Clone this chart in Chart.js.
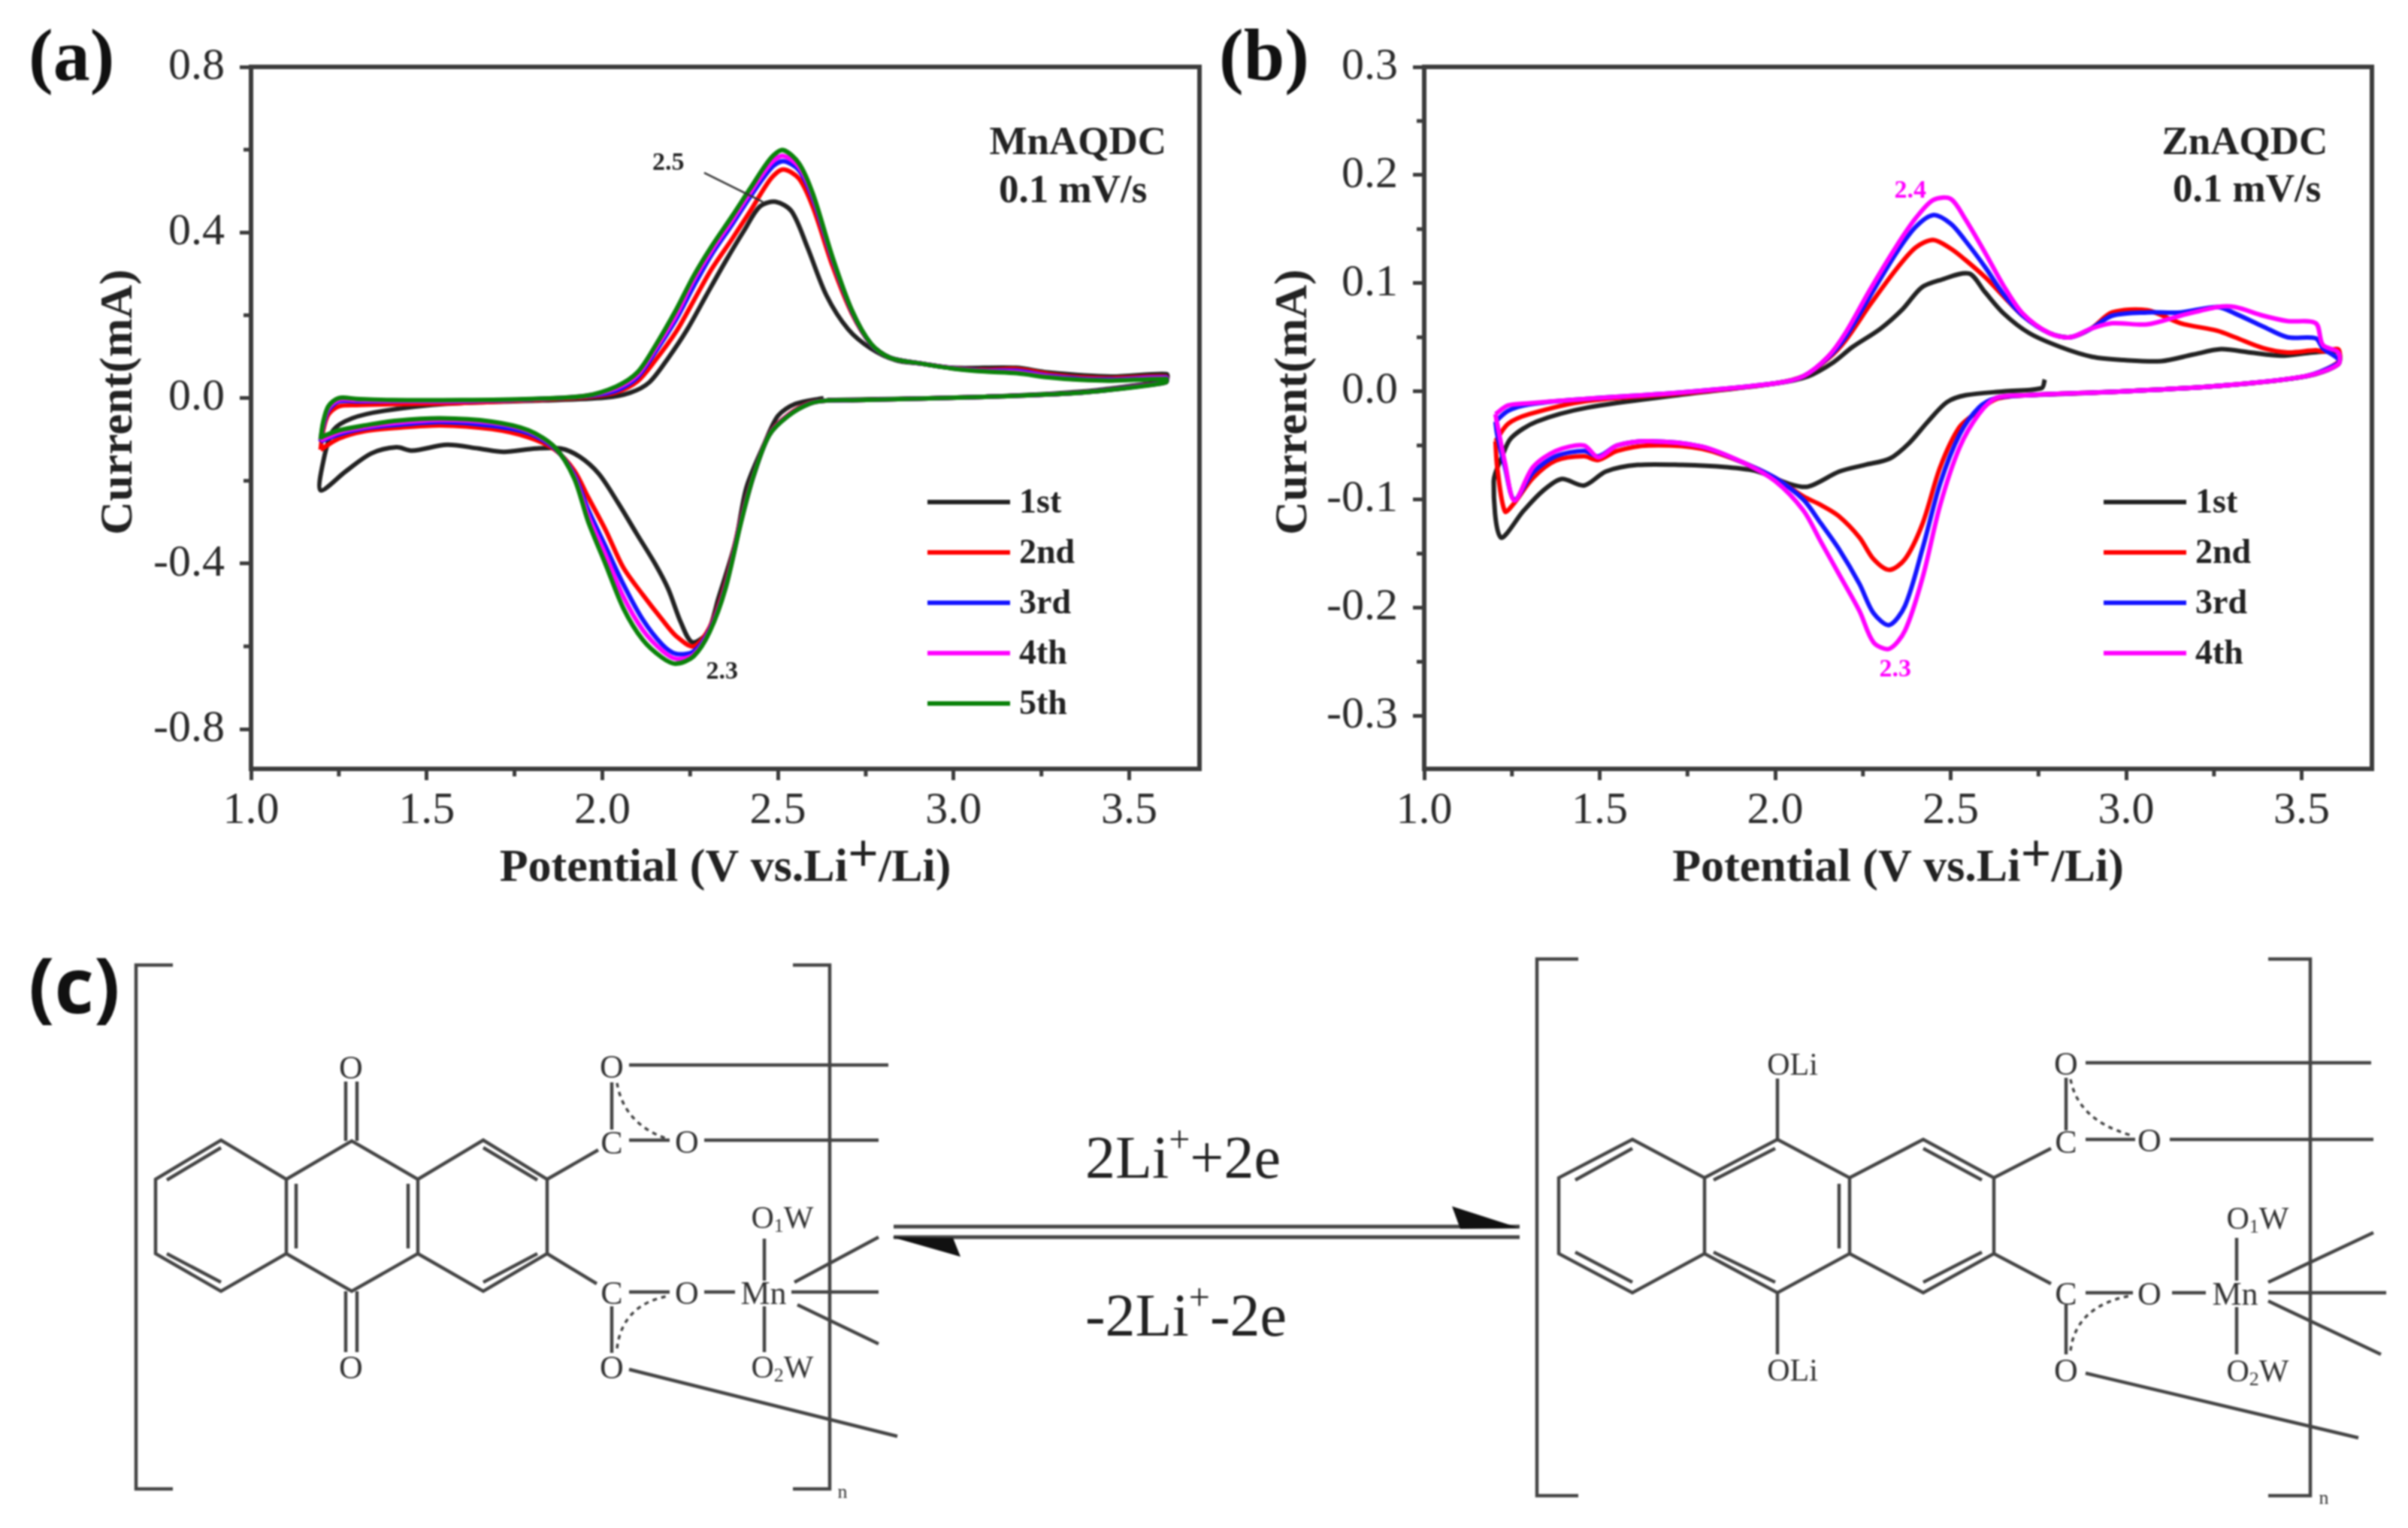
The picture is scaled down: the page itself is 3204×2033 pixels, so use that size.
<!DOCTYPE html>
<html>
<head>
<meta charset="utf-8">
<title>CV curves of MnAQDC and ZnAQDC</title>
<script src="https://cdn.jsdelivr.net/npm/chart.js@4/dist/chart.umd.js"></script>
<style>
  html, body { margin: 0; padding: 0; background: #fff; }
  #page { position: relative; width: 3204px; height: 2033px; overflow: hidden; background: #fff; filter: blur(0.8px); }
  canvas { position: absolute; top: 0; }
  #chartA { left: 0; }
  #chartB { left: 1640px; }
  .tag { position: absolute; font-weight: bold; color: #111; line-height: 1; }
  #scheme { position: absolute; left: 0; top: 0; }
  #scheme .bond { fill: none; stroke: #444; stroke-width: 4.5; }
  #scheme .dash { fill: none; stroke: #444; stroke-width: 3.5; stroke-dasharray: 6 6; }
  #scheme text { font-family: "Liberation Serif", serif; fill: #333; text-anchor: middle; dominant-baseline: central; }
</style>
</head>
<body>
<div id="page">
  <canvas id="chartA" width="1640" height="1200"></canvas>
  <canvas id="chartB" width="1564" height="1200"></canvas>
  <div class="tag" style="left:38px;top:24px;font-family:'Liberation Serif',serif;font-size:98px">(a)</div>
  <div class="tag" style="left:1622px;top:24px;font-family:'Liberation Serif',serif;font-size:98px">(b)</div>
  <div class="tag" style="left:38px;top:1258px;font-family:'Open Sans',sans-serif;font-size:102px">(c)</div>

  <svg id="scheme" width="3204" height="2033">
    <!-- left structure -->
    <path class="bond" d="M230 1284H181V1981H230M1055 1284H1104V1981H1055"/>
    <path class="bond" d="M294 1517L381 1569V1668L294 1718L207 1668V1569ZM381 1569L468 1518L556 1569V1668L468 1718L381 1668M556 1569L643 1517L728 1569V1668L643 1718L556 1668"/>
    <path class="bond" d="M222 1570L294 1527M222 1668L294 1706M394 1575V1661M543 1575V1661M643 1527L715 1570M643 1706L715 1668"/>
    <path class="bond" d="M460 1439V1518M475 1439V1518M460 1718V1799M475 1718V1799"/>
    <path class="bond" d="M728 1569L796 1530M814 1440V1503M837 1517H891M837 1417H1182M937 1517H1169"/>
    <path class="bond" d="M728 1668L794 1708M814 1738V1800M837 1719H891M937 1719H978M837 1822L1194 1911"/>
    <path class="bond" d="M1017 1648V1704M1017 1738V1799M1057 1706L1169 1646M1053 1719H1169M1061 1736L1169 1788"/>
    <path class="dash" d="M821 1441Q830 1495 887 1515M821 1794Q828 1735 891 1724"/>
    <text x="467" y="1420" font-size="44">O</text>
    <text x="467" y="1819" font-size="44">O</text>
    <text x="814" y="1419" font-size="44">O</text>
    <text x="814" y="1520" font-size="44">C</text>
    <text x="914" y="1519" font-size="44">O</text>
    <text x="814" y="1720" font-size="44">C</text>
    <text x="914" y="1720" font-size="44">O</text>
    <text x="814" y="1819" font-size="44">O</text>
    <text x="1016" y="1720" font-size="44">Mn</text>
    <text x="1041" y="1620" font-size="42">O<tspan font-size="26" dy="10">1</tspan><tspan dy="-10">W</tspan></text>
    <text x="1041" y="1819" font-size="42">O<tspan font-size="26" dy="10">2</tspan><tspan dy="-10">W</tspan></text>
    <text x="1121" y="1984" font-size="26">n</text>

    <!-- equilibrium arrows -->
    <path class="bond" d="M1189 1632H2022M1189 1646H2022" style="stroke-width:5"/>
    <path d="M1932 1605L2022 1634L1943 1635Z" fill="#111"/>
    <path d="M1187 1646L1278 1672L1268 1647Z" fill="#111"/>
    <text x="1574" y="1540" font-size="80" style="fill:#222">2Li<tspan font-size="50" dy="-24">+</tspan><tspan dy="24">+2e</tspan></text>
    <text x="1578" y="1750" font-size="80" style="fill:#222">-2Li<tspan font-size="50" dy="-24">+</tspan><tspan dy="24">-2e</tspan></text>

    <!-- right structure -->
    <path class="bond" d="M2100 1276H2045V1990H2100M3018 1276H3074V1990H3018"/>
    <path class="bond" d="M2172 1516L2268 1567V1668L2172 1720L2074 1668V1567ZM2268 1567L2365 1516L2461 1567V1668L2365 1720L2268 1668M2461 1567L2559 1516L2653 1567V1668L2559 1720L2461 1668"/>
    <path class="bond" d="M2096 1570L2172 1528M2096 1666L2172 1706M2280 1570L2362 1528M2280 1666L2362 1706M2447 1575V1661M2559 1528L2637 1570M2559 1706L2637 1666"/>
    <path class="bond" d="M2365 1435V1516M2365 1720V1802"/>
    <path class="bond" d="M2653 1567L2729 1528M2749 1434V1504M2775 1516H2841M2775 1414H3155M2887 1516H3158"/>
    <path class="bond" d="M2653 1668L2729 1708M2749 1736V1802M2775 1720H2838M2890 1720H2935M2775 1827L3138 1913"/>
    <path class="bond" d="M2976 1647V1704M2976 1739V1802M3018 1706L3158 1640M3018 1720H3175M3018 1731L3168 1802"/>
    <path class="dash" d="M2755 1436Q2765 1490 2834 1510M2755 1797Q2762 1738 2834 1724"/>
    <text x="2385" y="1416" font-size="42">OLi</text>
    <text x="2385" y="1823" font-size="42">OLi</text>
    <text x="2749" y="1415" font-size="44">O</text>
    <text x="2749" y="1519" font-size="44">C</text>
    <text x="2860" y="1517" font-size="44">O</text>
    <text x="2749" y="1721" font-size="44">C</text>
    <text x="2860" y="1721" font-size="44">O</text>
    <text x="2749" y="1823" font-size="44">O</text>
    <text x="2974" y="1721" font-size="44">Mn</text>
    <text x="3004" y="1621" font-size="42">O<tspan font-size="26" dy="10">1</tspan><tspan dy="-10">W</tspan></text>
    <text x="3004" y="1824" font-size="42">O<tspan font-size="26" dy="10">2</tspan><tspan dy="-10">W</tspan></text>
    <text x="3092" y="1992" font-size="26">n</text>
  </svg>
</div>

<script>
// --- panel (a) MnAQDC ---
const aCycleLabels = ['1st', '2nd', '3rd', '4th', '5th'];
const aFirstX = [2.63, 2.55, 2.50, 2.46, 2.41, 2.38, 2.33, 2.30, 2.256, 2.224, 2.188, 2.152, 2.098, 2.044, 1.99, 1.936, 1.882, 1.81, 1.72, 1.648, 1.558, 1.459, 1.414, 1.342, 1.27, 1.198,
  1.207, 1.234, 1.288, 1.378, 1.558, 1.828, 2.008, 2.08, 2.134, 2.188, 2.242, 2.296, 2.35, 2.404, 2.449, 2.494, 2.539, 2.584, 2.638, 2.70, 2.764, 2.836, 2.908, 2.998, 3.178, 3.268, 3.448, 3.606,
  3.606, 3.538, 3.358, 3.088, 2.64];
const aFirstY = [0.0, -0.014, -0.043, -0.113, -0.217, -0.345, -0.485, -0.566, -0.59, -0.543, -0.462, -0.403, -0.328, -0.252, -0.183, -0.142, -0.122, -0.122, -0.13, -0.122, -0.113, -0.127, -0.119, -0.134, -0.177, -0.223,
  -0.148, -0.078, -0.049, -0.031, -0.014, -0.006, 0.001, 0.013, 0.038, 0.097, 0.166, 0.248, 0.329, 0.405, 0.463, 0.474, 0.451, 0.364, 0.248, 0.166, 0.12, 0.091, 0.083, 0.073, 0.073, 0.062, 0.052, 0.058,
  0.044, 0.033, 0.015, 0.003, -0.005];
const aLoopX = [1.198, 1.205, 1.22, 1.25, 1.30, 1.40, 1.60, 1.80, 1.95, 2.04, 2.10, 2.15, 2.21, 2.26, 2.31, 2.37, 2.42, 2.48, 2.515, 2.56, 2.60, 2.655, 2.71, 2.765, 2.82, 2.91, 3.00, 3.09, 3.18, 3.27, 3.36, 3.45, 3.605,
  3.605, 3.54, 3.36, 3.09, 2.73, 2.64, 2.59, 2.53, 2.475, 2.43, 2.395, 2.35, 2.305, 2.26, 2.21, 2.17, 2.115, 2.06, 2.01, 1.96, 1.92, 1.865, 1.79, 1.685, 1.54, 1.415, 1.325, 1.25, 1.198];
const aSecondY = [-0.125, -0.08, -0.04, -0.02, -0.017, -0.015, -0.012, -0.005, 0.002, 0.014, 0.04, 0.09, 0.16, 0.235, 0.31, 0.385, 0.45, 0.53, 0.552, 0.53, 0.46, 0.32, 0.205, 0.13, 0.097, 0.083, 0.072, 0.068, 0.07, 0.058, 0.05, 0.048, 0.052,
  0.04, 0.03, 0.013, 0.003, -0.005, -0.006, -0.012, -0.04, -0.087, -0.187, -0.29, -0.45, -0.555, -0.60, -0.575, -0.535, -0.475, -0.41, -0.32, -0.24, -0.175, -0.125, -0.095, -0.075, -0.066, -0.072, -0.08, -0.098, -0.125];
const aThirdY = [-0.105, -0.07, -0.03, -0.008, -0.008, -0.008, -0.008, -0.003, 0.004, 0.018, 0.05, 0.11, 0.19, 0.27, 0.345, 0.42, 0.485, 0.555, 0.572, 0.55, 0.48, 0.335, 0.21, 0.13, 0.097, 0.083, 0.072, 0.066, 0.066, 0.054, 0.047, 0.045, 0.05,
  0.039, 0.03, 0.013, 0.003, -0.005, -0.006, -0.013, -0.042, -0.089, -0.189, -0.295, -0.457, -0.56, -0.612, -0.618, -0.595, -0.535, -0.45, -0.36, -0.27, -0.185, -0.122, -0.085, -0.067, -0.058, -0.065, -0.073, -0.088, -0.105];
const aFourthY = [-0.102, -0.065, -0.025, -0.004, -0.005, -0.007, -0.007, -0.003, 0.005, 0.024, 0.056, 0.118, 0.20, 0.285, 0.355, 0.43, 0.495, 0.567, 0.585, 0.558, 0.487, 0.338, 0.212, 0.13, 0.097, 0.083, 0.072, 0.065, 0.063, 0.052, 0.045, 0.043, 0.048,
  0.038, 0.03, 0.013, 0.003, -0.005, -0.006, -0.014, -0.042, -0.09, -0.19, -0.298, -0.46, -0.563, -0.62, -0.63, -0.61, -0.56, -0.48, -0.38, -0.285, -0.19, -0.12, -0.08, -0.06, -0.053, -0.06, -0.07, -0.083, -0.102];
const aFifthY = [-0.10, -0.06, -0.02, 0.0, -0.002, -0.005, -0.005, -0.002, 0.005, 0.028, 0.062, 0.125, 0.213, 0.295, 0.365, 0.44, 0.505, 0.58, 0.599, 0.567, 0.492, 0.341, 0.213, 0.131, 0.097, 0.083, 0.071, 0.064, 0.06, 0.05, 0.044, 0.042, 0.046,
  0.038, 0.029, 0.013, 0.003, -0.005, -0.006, -0.014, -0.043, -0.09, -0.19, -0.30, -0.462, -0.566, -0.624, -0.642, -0.627, -0.584, -0.508, -0.403, -0.299, -0.194, -0.119, -0.078, -0.057, -0.049, -0.055, -0.066, -0.078, -0.095];

// --- panel (b) ZnAQDC ---
const bCycleLabels = ['1st', '2nd', '3rd', '4th'];
const bFirstX = [2.768, 2.759, 2.651, 2.543, 2.489, 2.435, 2.381, 2.327, 2.255, 2.183, 2.094, 2.04, 1.95, 1.86, 1.734, 1.608, 1.518, 1.455, 1.392, 1.338, 1.284, 1.218, 1.198,
  1.221, 1.248, 1.32, 1.464, 1.734, 2.004, 2.094, 2.166, 2.22, 2.30, 2.363, 2.417, 2.471, 2.552, 2.597, 2.651, 2.723, 2.813, 2.903, 2.993, 3.10, 3.19, 3.27, 3.353, 3.442, 3.532, 3.604,
  3.604, 3.514, 3.263, 2.993, 2.723];
const bFirstY = [0.011, 0.003, 0.0, -0.0035, -0.01, -0.028, -0.048, -0.062, -0.068, -0.074, -0.088, -0.0855, -0.074, -0.07, -0.068, -0.068, -0.074, -0.087, -0.081, -0.092, -0.11, -0.135, -0.083,
  -0.061, -0.043, -0.028, -0.015, -0.003, 0.0075, 0.014, 0.027, 0.041, 0.058, 0.076, 0.096, 0.103, 0.109, 0.092, 0.072, 0.054, 0.041, 0.032, 0.029, 0.028, 0.034, 0.039, 0.036, 0.033, 0.036, 0.036,
  0.025, 0.014, 0.005, 0.0, -0.0035];
const bLoopX = [1.203, 1.239, 1.30, 1.46, 1.73, 2.00, 2.08, 2.15, 2.20, 2.27, 2.345, 2.40, 2.45, 2.50, 2.54, 2.60, 2.65, 2.705, 2.78, 2.84, 2.90, 2.96, 3.06, 3.155, 3.26, 3.31, 3.39, 3.46, 3.54, 3.56, 3.604,
  3.604, 3.51, 3.26, 2.99, 2.72, 2.63, 2.58, 2.525, 2.47, 2.42, 2.37, 2.325, 2.28, 2.24, 2.18, 2.13, 2.08, 2.00, 1.91, 1.79, 1.64, 1.55, 1.496, 1.455, 1.375, 1.31, 1.257, 1.23, 1.208, 1.203];
const bSecondY = [-0.046, -0.03, -0.021, -0.009, -0.002, 0.0075, 0.014, 0.03, 0.047, 0.08, 0.113, 0.133, 0.14, 0.132, 0.122, 0.105, 0.088, 0.07, 0.054, 0.05, 0.058, 0.073, 0.075, 0.063, 0.056, 0.05, 0.04, 0.036, 0.038, 0.037, 0.039,
  0.027, 0.014, 0.005, 0.0, -0.0035, -0.007, -0.018, -0.033, -0.07, -0.122, -0.155, -0.165, -0.155, -0.135, -0.115, -0.105, -0.097, -0.08, -0.066, -0.053, -0.05, -0.055, -0.0635, -0.06, -0.064, -0.08, -0.103, -0.111, -0.07, -0.046];
const bThirdY = [-0.028, -0.018, -0.012, -0.007, -0.001, 0.0075, 0.014, 0.031, 0.05, 0.088, 0.128, 0.152, 0.163, 0.155, 0.14, 0.114, 0.09, 0.07, 0.054, 0.05, 0.058, 0.07, 0.073, 0.073, 0.078, 0.072, 0.06, 0.05, 0.049, 0.04, 0.03,
  0.026, 0.014, 0.005, 0.0, -0.0035, -0.006, -0.015, -0.04, -0.085, -0.145, -0.198, -0.216, -0.205, -0.178, -0.145, -0.122, -0.10, -0.08, -0.066, -0.051, -0.046, -0.05, -0.06, -0.055, -0.06, -0.075, -0.10, -0.07, -0.04, -0.028];
const bFourthY = [-0.021, -0.013, -0.011, -0.007, -0.001, 0.0075, 0.014, 0.032, 0.054, 0.094, 0.134, 0.16, 0.177, 0.178, 0.16, 0.127, 0.098, 0.072, 0.054, 0.05, 0.058, 0.063, 0.062, 0.07, 0.078, 0.078, 0.07, 0.065, 0.063, 0.043, 0.036,
  0.025, 0.014, 0.005, 0.0, -0.0035, -0.006, -0.021, -0.052, -0.105, -0.172, -0.221, -0.238, -0.232, -0.203, -0.168, -0.139, -0.11, -0.083, -0.066, -0.051, -0.046, -0.05, -0.061, -0.05, -0.055, -0.07, -0.101, -0.066, -0.03, -0.021];

const cycleColors = ['#222222', '#ff0000', '#1414ff', '#ff00ff', '#0a820a'];
const serif = '"Liberation Serif", serif';

function toPoints(xs, ys) {
  return xs.map((x, i) => ({ x: x, y: ys[i] }));
}

// frame, minor ticks, axis titles, legend and notes
function decorPlugin(cfg) {
  return {
    id: 'decor',
    afterDraw(chart) {
      const ctx = chart.ctx;
      const area = chart.chartArea;
      const xs = chart.scales.x;
      const ys = chart.scales.y;
      ctx.save();

      ctx.strokeStyle = '#3c3c3c';
      ctx.lineWidth = 6;
      ctx.strokeRect(area.left, area.top, area.right - area.left, area.bottom - area.top);

      // minor ticks half way between the major ones
      ctx.lineWidth = 5;
      const stepX = xs.ticks[1].value - xs.ticks[0].value;
      for (let v = xs.ticks[0].value + stepX / 2; v < xs.max; v += stepX) {
        const px = xs.getPixelForValue(v);
        ctx.beginPath(); ctx.moveTo(px, area.bottom); ctx.lineTo(px, area.bottom + 10); ctx.stroke();
      }
      const stepY = Math.abs(ys.ticks[1].value - ys.ticks[0].value);
      for (let v = ys.ticks[0].value + stepY / 2; v < ys.max; v += stepY) {
        const py = ys.getPixelForValue(v);
        ctx.beginPath(); ctx.moveTo(area.left, py); ctx.lineTo(area.left - 10, py); ctx.stroke();
      }

      // axis titles
      ctx.fillStyle = '#222';
      ctx.textBaseline = 'middle';
      ctx.font = 'bold 62px ' + serif;
      const w1 = ctx.measureText('Potential (V vs.Li').width;
      const w3 = ctx.measureText('/Li)').width;
      ctx.font = 'bold 72px ' + serif;
      const w2 = ctx.measureText('+').width;
      let tx = (area.left + area.right) / 2 - (w1 + w2 + w3) / 2;
      const ty = 1156;
      ctx.textAlign = 'left';
      ctx.font = 'bold 62px ' + serif;
      ctx.fillText('Potential (V vs.Li', tx, ty);
      ctx.font = 'bold 72px ' + serif;
      ctx.fillText('+', tx + w1, ty - 16);
      ctx.font = 'bold 62px ' + serif;
      ctx.fillText('/Li)', tx + w1 + w2, ty);

      ctx.save();
      ctx.translate(cfg.yTitleX, 535);
      ctx.rotate(-Math.PI / 2);
      ctx.textAlign = 'center';
      ctx.fillText('Current(mA)', 0, 0);
      ctx.restore();

      // legend
      ctx.font = 'bold 46px ' + serif;
      ctx.textAlign = 'left';
      chart.data.datasets.forEach((ds, i) => {
        const ly = 668 + i * 67;
        ctx.strokeStyle = ds.borderColor;
        ctx.lineWidth = 6;
        ctx.beginPath(); ctx.moveTo(cfg.legendX, ly); ctx.lineTo(cfg.legendX + 110, ly); ctx.stroke();
        ctx.fillStyle = '#222';
        ctx.fillText(ds.label, cfg.legendX + 122, ly + 2);
      });

      // notes placed in data coordinates
      ctx.textAlign = 'center';
      cfg.notes.forEach(n => {
        ctx.font = 'bold ' + n.size + 'px ' + serif;
        ctx.fillStyle = n.color || '#222';
        ctx.fillText(n.text, xs.getPixelForValue(n.x), ys.getPixelForValue(n.y));
      });
      if (cfg.leader) {
        ctx.strokeStyle = '#333';
        ctx.lineWidth = 2.5;
        ctx.beginPath();
        ctx.moveTo(xs.getPixelForValue(cfg.leader[0]), ys.getPixelForValue(cfg.leader[1]));
        ctx.lineTo(xs.getPixelForValue(cfg.leader[2]), ys.getPixelForValue(cfg.leader[3]));
        ctx.stroke();
      }
      ctx.restore();
    }
  };
}

function drawPanel(id, datasets, cfg) {
  const ctx = document.getElementById(id).getContext('2d');
  new Chart(ctx, {
    type: 'scatter',
    data: {
      datasets: datasets.map((d, i) => ({
        label: d.label,
        data: toPoints(d.x, d.y),
        showLine: true,
        borderColor: cycleColors[i],
        borderWidth: 6,
        pointRadius: 0,
        tension: 0.3,
        order: -i
      }))
    },
    options: {
      responsive: false,
      animation: false,
      layout: { padding: { top: 89, right: cfg.rightPad, left: 0, bottom: 0 } },
      plugins: { legend: { display: false }, tooltip: { enabled: false } },
      scales: {
        x: {
          type: 'linear',
          min: 1.0,
          max: 3.7,
          afterFit: s => { s.height = 1200 - 1023; },
          border: { display: false },
          grid: { drawOnChartArea: false, tickLength: 15, tickWidth: 5, tickColor: '#3c3c3c' },
          ticks: {
            stepSize: 0.5,
            includeBounds: false,
            padding: 5,
            color: '#2a2a2a',
            maxRotation: 0,
            font: { family: serif, size: 60 },
            callback: v => v.toFixed(1)
          }
        },
        y: {
          min: cfg.yMin,
          max: cfg.yMax,
          afterFit: s => { s.width = cfg.axisLeft; },
          border: { display: false },
          grid: { drawOnChartArea: false, tickLength: 15, tickWidth: 5, tickColor: '#3c3c3c' },
          ticks: {
            stepSize: cfg.yStep,
            includeBounds: false,
            padding: 20,
            color: '#2a2a2a',
            font: { family: serif, size: 60 },
            callback: v => v.toFixed(1)
          }
        }
      }
    },
    plugins: [decorPlugin(cfg)]
  });
}

drawPanel('chartA', [
  { label: aCycleLabels[0], x: aFirstX, y: aFirstY },
  { label: aCycleLabels[1], x: aLoopX, y: aSecondY },
  { label: aCycleLabels[2], x: aLoopX, y: aThirdY },
  { label: aCycleLabels[3], x: aLoopX, y: aFourthY },
  { label: aCycleLabels[4], x: aLoopX, y: aFifthY }
], {
  axisLeft: 334, rightPad: 44, yMin: -0.896, yMax: 0.8, yStep: 0.4,
  yTitleX: 159, legendX: 1234,
  leader: [2.29, 0.544, 2.457, 0.474],
  notes: [
    { text: 'MnAQDC', x: 3.354, y: 0.614, size: 53 },
    { text: '0.1 mV/s', x: 3.34, y: 0.498, size: 53 },
    { text: '2.5', x: 2.188, y: 0.567, size: 34 },
    { text: '2.3', x: 2.341, y: -0.663, size: 34 }
  ]
});

drawPanel('chartB', [
  { label: bCycleLabels[0], x: bFirstX, y: bFirstY },
  { label: bCycleLabels[1], x: bLoopX, y: bSecondY },
  { label: bCycleLabels[2], x: bLoopX, y: bThirdY },
  { label: bCycleLabels[3], x: bLoopX, y: bFourthY }
], {
  axisLeft: 255, rightPad: 48, yMin: -0.349, yMax: 0.3, yStep: 0.1,
  yTitleX: 82, legendX: 1159,
  notes: [
    { text: 'ZnAQDC', x: 3.338, y: 0.229, size: 53 },
    { text: '0.1 mV/s', x: 3.344, y: 0.185, size: 53 },
    { text: '2.4', x: 2.385, y: 0.185, size: 34, color: '#ff00ff' },
    { text: '2.3', x: 2.342, y: -0.2575, size: 34, color: '#ff00ff' }
  ]
});
</script>
</body>
</html>
